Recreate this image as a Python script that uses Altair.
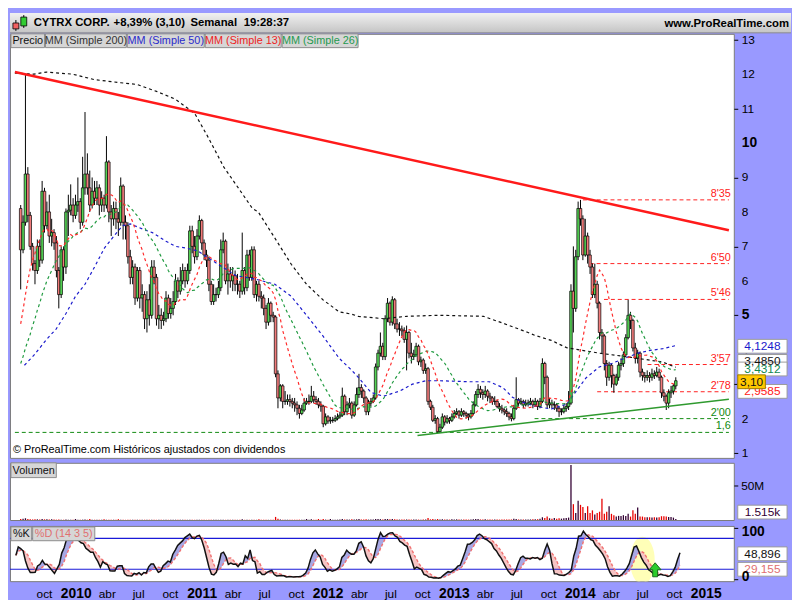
import altair as alt
import pandas as pd

# ---------------- data ----------------
last_week = "2014-10-17"
first_open = 8.1
closes = [
    6.9, 7.7, 9.1, 7.9, 7.0, 6.5, 6.3, 7.0, 6.6, 8.6,
    7.6, 8.0, 7.3, 7.4, 7.1, 6.3, 5.6, 6.9, 6.4, 8.0,
    8.05, 8.2, 7.9, 8.2, 8.3, 7.7, 8.7, 9.1, 8.7, 8.2,
    8.6, 8.4, 8.7, 8.2, 8.4, 8.2, 9.45, 8.0, 7.8, 8.1,
    7.8, 7.7, 8.75, 7.7, 7.6, 6.7, 6.1, 6.4, 5.5, 6.3,
    5.5, 5.6, 4.9, 5.45, 5.0, 6.4, 6.1, 4.9, 5.0, 4.85,
    4.9, 5.5, 5.05, 5.2, 5.4, 6.0, 5.7, 6.0, 6.3, 6.0,
    6.3, 7.45, 7.0, 6.7, 7.3, 7.75, 7.1, 6.75, 6.6, 5.9,
    5.4, 5.6, 5.6, 5.8, 6.9, 7.15, 6.0, 6.2, 6.0, 6.15,
    5.9, 5.9, 5.7, 6.3, 5.8, 6.75, 6.1, 6.9, 5.6, 5.9,
    5.55, 5.5, 5.2, 4.8, 5.35, 5.0, 4.95, 3.3, 2.6, 2.95,
    2.5, 2.5, 2.55, 2.5, 2.45, 2.4, 2.3, 2.15, 2.25, 2.45,
    2.5, 2.5, 2.65, 2.55, 2.5, 2.4, 2.36, 1.85, 2.05, 1.93,
    1.95, 1.95, 2.0, 2.05, 2.1, 2.65, 2.2, 2.4, 2.45, 2.1,
    2.4, 2.7, 2.9, 2.8, 2.6, 2.2, 2.45, 2.5, 2.6, 3.5,
    3.9, 4.1, 3.8, 4.9, 5.35, 4.8, 5.45, 4.75, 4.6, 4.6,
    4.55, 4.3, 4.5, 3.9, 3.8, 3.85, 4.1, 3.65, 3.7, 3.4,
    3.45, 2.5, 2.33, 1.95, 2.0, 1.62, 1.75, 2.05, 1.9, 2.0,
    1.95, 2.05, 2.15, 2.2, 2.1, 2.2, 2.15, 2.1, 2.05, 2.15,
    2.4, 2.7, 2.85, 2.75, 2.7, 2.8, 2.65, 2.6, 2.5, 2.5,
    2.35, 2.3, 2.25, 2.2, 2.15, 2.05, 2.0, 2.3, 2.55, 2.45,
    2.5, 2.4, 2.45, 2.45, 2.5, 2.4, 2.5, 2.35, 2.5, 3.6,
    3.2, 2.4, 2.45, 2.4, 2.4, 2.3, 2.2, 2.2, 2.3, 2.35,
    2.45, 5.7, 5.2, 6.7, 8.1, 7.8, 6.75, 7.3, 6.75, 6.4,
    5.6, 5.9, 5.35, 4.5, 4.4, 3.6, 3.2, 3.55, 3.25, 3.0,
    3.2, 3.55, 3.6, 3.85, 4.35, 5.0, 4.85, 4.05, 3.75, 3.9,
    3.35, 3.25, 3.2, 3.25, 3.2, 3.3, 3.25, 3.35, 3.2, 2.75,
    2.65, 2.45, 2.75, 2.8, 2.95, 3.1,
]
highs = [
    8.2, 7.9, 12.0, 9.3, 8.0, 7.1, 6.6, 7.2, 7.2, 8.9,
    8.7, 8.3, 8.5, 7.8, 7.5, 7.3, 6.4, 7.0, 7.0, 8.1,
    8.5, 8.8, 8.4, 8.5, 9.0, 8.4, 9.6, 10.9, 9.7, 9.2,
    9.0, 8.9, 8.9, 8.8, 8.6, 8.5, 10.2, 9.5, 8.2, 8.3,
    8.3, 8.0, 9.0, 8.8, 7.9, 7.7, 6.9, 6.6, 6.5, 6.4,
    6.4, 5.9, 5.7, 5.7, 5.9, 6.6, 6.6, 6.2, 5.3, 5.2,
    5.1, 5.7, 5.6, 5.5, 5.7, 6.2, 6.1, 6.4, 6.5, 6.4,
    6.5, 7.6, 7.6, 7.3, 7.5, 7.9, 7.8, 7.2, 6.9, 6.7,
    6.0, 5.9, 5.8, 6.0, 7.2, 7.4, 7.2, 6.5, 6.4, 6.4,
    6.3, 6.2, 6.0, 7.4, 6.4, 6.9, 6.9, 7.0, 7.0, 6.0,
    6.0, 5.7, 5.6, 5.3, 5.5, 5.4, 5.1, 5.0, 3.4, 3.0,
    3.0, 2.8, 2.7, 2.7, 2.6, 2.6, 2.5, 2.4, 2.4, 2.6,
    2.6, 2.7, 2.95, 2.8, 2.65, 2.6, 2.5, 2.4, 2.15, 2.1,
    2.05, 2.05, 2.1, 2.15, 2.2, 2.9, 2.7, 2.5, 2.6, 2.5,
    2.5, 2.9, 3.3, 3.0, 2.85, 2.65, 2.55, 2.6, 2.7, 3.6,
    4.0, 4.5, 4.2, 5.0, 5.5, 5.4, 5.55, 5.5, 4.9, 4.8,
    4.7, 4.65, 4.7, 4.55, 4.2, 4.0, 4.2, 4.15, 3.8, 3.75,
    3.6, 3.5, 2.55, 2.4, 2.1, 2.05, 1.85, 2.15, 2.1, 2.1,
    2.05, 2.15, 2.25, 2.3, 2.25, 2.3, 2.25, 2.2, 2.15, 2.25,
    2.5, 2.8, 3.0, 2.95, 2.85, 2.95, 2.85, 2.75, 2.65, 2.65,
    2.55, 2.45, 2.4, 2.3, 2.3, 2.2, 2.15, 2.4, 3.2, 2.6,
    2.6, 2.55, 2.55, 2.55, 2.6, 2.55, 2.6, 2.55, 2.6, 3.75,
    3.65, 3.25, 2.6, 2.55, 2.5, 2.45, 2.35, 2.3, 2.4, 2.45,
    2.8, 5.9, 7.0, 6.9, 8.3, 8.35, 7.9, 7.8, 7.4, 6.9,
    6.5, 6.5, 6.0, 5.4, 4.6, 4.45, 3.7, 3.65, 3.6, 3.3,
    3.3, 3.65, 3.75, 3.95, 4.45, 5.45, 5.1, 4.9, 4.2, 4.0,
    3.95, 3.45, 3.35, 3.4, 3.35, 3.45, 3.4, 3.5, 3.45, 3.25,
    2.85, 2.7, 2.85, 2.95, 3.0, 3.2,
]
lows = [
    5.75, 6.8, 7.6, 7.7, 6.9, 6.3, 5.9, 6.2, 6.4, 6.5,
    7.4, 7.5, 7.1, 7.0, 6.9, 6.1, 5.2, 5.5, 6.0, 6.2,
    7.3, 7.9, 7.7, 7.8, 8.0, 7.5, 7.6, 8.5, 8.5, 8.0,
    8.1, 8.2, 8.2, 7.9, 8.0, 8.0, 8.1, 7.7, 7.3, 7.6,
    7.5, 7.3, 7.6, 7.2, 7.2, 6.5, 5.9, 5.9, 5.3, 5.4,
    5.2, 5.1, 4.6, 4.5, 4.7, 4.9, 5.9, 4.7, 4.6, 4.6,
    4.7, 4.8, 4.9, 4.9, 5.0, 5.3, 5.5, 5.6, 5.9, 5.8,
    5.9, 6.2, 6.8, 6.5, 6.6, 7.2, 6.9, 6.6, 6.4, 5.7,
    5.3, 5.3, 5.4, 5.5, 5.7, 6.8, 5.9, 5.6, 5.8, 5.7,
    5.7, 5.6, 5.5, 5.6, 5.6, 5.7, 6.0, 6.0, 5.5, 5.4,
    5.4, 5.2, 5.0, 4.6, 4.7, 4.8, 4.8, 3.2, 2.3, 2.5,
    2.3, 2.4, 2.4, 2.35, 2.3, 2.2, 2.1, 2.0, 2.1, 2.2,
    2.4, 2.4, 2.45, 2.45, 2.4, 2.3, 2.2, 1.75, 1.8, 1.85,
    1.85, 1.88, 1.9, 1.95, 2.0, 2.05, 2.1, 2.1, 2.3, 2.0,
    2.05, 2.35, 2.6, 2.6, 2.45, 2.1, 2.1, 2.35, 2.45, 2.55,
    3.4, 3.8, 3.7, 3.7, 4.8, 4.7, 4.7, 4.6, 4.5, 4.4,
    4.4, 4.2, 3.4, 3.75, 3.6, 3.7, 3.8, 3.55, 3.5, 3.3,
    3.3, 2.4, 2.25, 1.9, 1.85, 1.58, 1.6, 1.7, 1.8, 1.85,
    1.85, 1.9, 2.0, 2.1, 2.0, 2.05, 2.05, 2.0, 1.95, 2.0,
    2.1, 2.35, 2.6, 2.6, 2.55, 2.6, 2.5, 2.45, 2.4, 2.4,
    2.3, 2.2, 2.15, 2.1, 2.05, 1.95, 1.92, 1.95, 2.25, 2.35,
    2.4, 2.3, 2.35, 2.35, 2.4, 2.3, 2.35, 2.25, 2.3, 2.45,
    3.0, 2.3, 2.3, 2.3, 2.25, 2.2, 2.05, 2.1, 2.15, 2.2,
    2.25, 2.4, 4.5, 5.1, 6.6, 7.6, 6.6, 6.7, 6.5, 6.2,
    5.5, 5.5, 5.2, 4.3, 3.9, 3.4, 2.95, 3.1, 2.9, 2.75,
    2.95, 3.1, 3.4, 3.5, 3.8, 4.3, 4.6, 3.95, 3.6, 3.6,
    3.2, 3.1, 3.05, 3.1, 3.05, 3.1, 3.15, 3.2, 3.1, 2.6,
    2.5, 2.25, 2.3, 2.6, 2.7, 2.85,
]
volumes_m = [
    1.5, 2.0, 2.5, 1.5, 1.0, 0.8, 1.2, 1.0, 0.8, 1.5,
    1.0, 1.2, 0.8, 1.0, 0.8, 0.5, 0.6, 0.5, 0.4, 0.6,
    0.5, 0.4, 0.5, 1.5, 0.5, 0.4, 0.5, 0.6, 0.4, 1.5,
    0.5, 0.4, 0.5, 0.4, 0.5, 1.2, 0.4, 0.5, 0.4, 0.4,
    0.4, 1.2, 0.4, 0.4, 0.3, 0.4, 0.3, 0.4, 0.3, 0.4,
    0.3, 0.3, 0.4, 0.3, 0.3, 0.4, 0.3, 0.3, 0.3, 0.3,
    0.3, 0.4, 0.3, 0.3, 0.3, 0.4, 0.3, 0.3, 0.3, 0.3,
    0.3, 0.4, 0.3, 0.3, 0.3, 0.3, 0.3, 0.3, 0.3, 0.3,
    0.3, 0.3, 0.3, 0.3, 0.4, 0.3, 0.3, 0.3, 0.3, 0.3,
    0.3, 0.3, 0.3, 1.0, 0.3, 0.3, 0.3, 0.3, 0.4, 0.3,
    1.0, 0.3, 0.3, 0.4, 0.3, 0.3, 0.5, 4.5, 2.0, 0.6,
    0.5, 0.4, 0.4, 0.4, 0.4, 0.4, 0.5, 0.5, 0.4, 0.5,
    1.5, 0.5, 1.0, 0.5, 0.4, 1.5, 0.5, 1.5, 0.6, 0.5,
    1.5, 0.5, 0.5, 0.5, 0.6, 1.5, 0.8, 0.6, 0.6, 1.2,
    0.6, 1.0, 1.5, 0.8, 0.6, 1.2, 0.6, 0.6, 0.6, 1.5,
    1.5, 1.2, 0.8, 1.5, 1.5, 1.0, 1.5, 1.0, 0.6, 0.6,
    0.6, 0.6, 0.8, 0.8, 0.6, 0.6, 0.6, 0.6, 0.5, 0.6,
    0.6, 3.0, 1.0, 1.5, 0.8, 1.5, 0.8, 1.2, 0.8, 0.6,
    0.6, 1.2, 0.6, 1.0, 0.6, 0.6, 0.6, 0.6, 0.6, 0.6,
    1.2, 1.5, 1.5, 0.8, 0.6, 1.2, 0.6, 0.6, 0.6, 0.6,
    0.6, 0.6, 0.6, 0.6, 0.6, 0.6, 0.8, 2.0, 1.5, 0.8,
    0.8, 0.8, 0.8, 0.8, 0.8, 1.0, 1.0, 1.2, 2.0, 4.0,
    3.0, 5.0, 2.5, 2.0, 3.0, 2.0, 2.5, 2.0, 2.5, 3.0,
    3.5, 80.0, 23.0, 10.0, 28.0, 22.0, 19.0, 10.0, 20.0, 10.0,
    14.0, 8.0, 10.0, 12.0, 31.0, 9.0, 12.0, 20.0, 9.0, 7.0,
    5.0, 6.0, 6.0, 7.0, 6.0, 9.0, 5.0, 14.0, 9.0, 18.0,
    5.0, 5.0, 4.0, 4.0, 4.0, 3.5, 4.0, 3.5, 4.0, 5.5,
    5.5, 5.0, 4.5, 4.5, 3.5, 1.5,
]
# moving averages at the start of the window (history before the chart)
ma13_head = [4.75, 5.15, 5.6, 6.0, 6.35, 6.6, 6.8, 7.05, 7.2, 7.4, 7.5, 7.5]
ma26_head = [3.6, 3.8, 4.05, 4.25, 4.45, 4.7, 4.9, 5.15, 5.35, 5.6, 5.8, 6.0, 6.15,
             6.3, 6.45, 6.6, 6.7, 6.85, 6.95, 7.05, 7.15, 7.2, 7.3, 7.35, 7.4]
ma50_dates = ["2009-07-21", "2009-08-18", "2009-09-24", "2009-10-22", "2009-11-20", "2009-12-18",
              "2010-01-15", "2010-02-12", "2010-03-13", "2010-04-10", "2010-05-05", "2010-05-28",
              "2010-07-04", "2010-08-01", "2010-09-10", "2010-10-08", "2010-11-08", "2010-12-12",
              "2011-02-07", "2011-04-04", "2011-05-31", "2011-07-27", "2011-09-13", "2011-10-28",
              "2011-12-15", "2012-02-01", "2012-03-09", "2012-03-28", "2012-05-04", "2012-06-10",
              "2012-07-28", "2012-09-03", "2012-10-13", "2012-11-19", "2013-02-20", "2013-04-17",
              "2013-05-27", "2013-06-24", "2013-07-23", "2013-08-28", "2013-10-16", "2013-11-30",
              "2013-12-28", "2014-01-26", "2014-03-06", "2014-04-12", "2014-05-19", "2014-06-28",
              "2014-08-03", "2014-09-09", "2014-10-17"]
ma50_values = [3.55, 3.84, 4.3, 4.6, 5.05, 5.55, 5.9, 6.4, 6.95, 7.3, 7.6, 7.65,
               7.5, 7.4, 7.15, 7.0, 6.95, 6.87, 6.5, 6.15, 6.05, 5.9, 5.55, 5.0,
               4.4, 3.75, 3.4, 3.2, 2.76, 2.65, 2.8, 3.0, 3.1, 3.1, 3.07, 3.07,
               2.9, 2.62, 2.48, 2.36, 2.28, 2.42, 2.79, 3.18, 3.5, 3.6, 3.75, 3.9,
               3.98, 4.03, 4.12]
ma200_dates = ["2009-06-23", "2009-08-18", "2009-09-24", "2009-12-09", "2010-02-12", "2010-04-30",
               "2010-06-17", "2010-08-13", "2010-10-08", "2010-11-14", "2010-12-04", "2011-01-10",
               "2011-02-27", "2011-04-13", "2011-05-22", "2011-06-08", "2011-07-27", "2011-09-13",
               "2011-10-28", "2011-12-15", "2012-02-01", "2012-03-09", "2012-03-28", "2012-06-10",
               "2012-08-17", "2012-11-19", "2013-03-31", "2013-05-27", "2013-08-09", "2013-08-28",
               "2013-10-16", "2013-11-30", "2014-03-06", "2014-06-07", "2014-09-09", "2014-10-17"]
ma200_values = [12.03, 12.0, 12.06, 12.0, 11.84, 11.75, 11.7, 11.5, 11.27, 11.0, 10.85, 10.2,
                9.3, 8.66, 8.1, 8.0, 7.24, 6.48, 5.9, 5.45, 5.1, 5.03, 4.97, 4.9,
                4.97, 5.0, 4.97, 4.77, 4.5, 4.42, 4.27, 4.06, 3.9, 3.78, 3.64, 3.49]

trend_dates = ["2009-06-23", "2015-03-22"]
trend_prices = [12.06, 7.47]
support_dates = ["2012-09-18", "2015-03-22"]
support_prices = [1.51, 2.56]

level_values = [8.35, 6.50, 5.46, 3.57, 2.78, 2.00, 1.60]
level_labels = ["8'35", "6'50", "5'46", "3'57", "2'78", "2'00", "1,6"]
level_starts = ["2014-01-17", "2014-02-06", "2014-03-20", "2014-07-26", "2014-02-28", "2013-08-28", "2009-06-23"]
level_kinds = ["resistance"] * 5 + ["support"] * 2
level_end = "2015-03-22"

price_ticks = list(range(1, 14))
price_major_ticks = [5, 10]
price_box_labels = ["4,1248", "3,4850", "3,4312", "2,9585", "3,10"]
price_box_levels = [4.10, 3.66, 3.44, 2.79, 3.07]
price_box_kinds = ["ma50", "ma200", "ma26", "ma13", "last"]

stoch_ticks = [0, 100]
stoch_box_labels = ["48,896", "29,155"]
stoch_box_levels = [50, 20]
stoch_box_kinds = ["k", "d"]
stoch_bands = [20, 80]
highlight_date = ["2014-06-30"]
highlight_level = [37]
arrow_date = ["2014-08-06"]
arrow_level = [19]

vol_box_label = ["1.515k"]
vol_box_level = [11.5]

month_names = {1: None, 4: "abr", 7: "jul", 10: "oct"}
quarters = [(2009, 10)] + [(y, m) for y in range(2010, 2015) for m in (1, 4, 7, 10)] + [(2015, 1)]

# ---------------- derived tables ----------------
dates = pd.date_range(end=last_week, periods=len(closes), freq="7D")
df = pd.DataFrame({"date": dates.strftime("%Y-%m-%d"), "close": closes,
                   "high": highs, "low": lows, "vol": volumes_m})
df["open"] = [first_open] + closes[:-1]
df["dir"] = ["up" if c >= o else "down" for o, c in zip(df["open"], df["close"])]
ma13 = df["close"].rolling(13).mean()
ma13.iloc[:len(ma13_head)] = ma13_head
ma26 = df["close"].rolling(26).mean()
ma26.iloc[:len(ma26_head)] = ma26_head
df["ma13"] = ma13.round(4)
df["ma26"] = ma26.round(4)
hh = df["high"].rolling(14, min_periods=1).max()
ll = df["low"].rolling(14, min_periods=1).min()
raw = 100 * (df["close"] - ll) / (hh - ll)
k = raw.rolling(3, min_periods=1).mean()
d = k.rolling(5, min_periods=1).mean()
df["k"] = k.round(3)
df["d"] = d.round(3)
df["kd_max"] = pd.concat([k, d], axis=1).max(axis=1).round(3)
df["kd_min"] = pd.concat([k, d], axis=1).min(axis=1).round(3)

ma50_df = pd.DataFrame({"date": ma50_dates, "v": ma50_values})
ma200_df = pd.DataFrame({"date": ma200_dates, "v": ma200_values})
trend_df = pd.DataFrame({"date": trend_dates, "v": trend_prices})
support_df = pd.DataFrame({"date": support_dates, "v": support_prices})
levels_df = pd.DataFrame({"start": level_starts, "end": [level_end] * len(level_values),
                          "v": level_values, "label": level_labels, "kind": level_kinds})
pbox_df = pd.DataFrame({"label": price_box_labels, "v": price_box_levels, "kind": price_box_kinds})
sbox_df = pd.DataFrame({"label": stoch_box_labels, "v": stoch_box_levels, "kind": stoch_box_kinds})
bands_df = pd.DataFrame({"v": stoch_bands})
hl_df = pd.DataFrame({"date": highlight_date, "v": highlight_level})
arrow_df = pd.DataFrame({"date": arrow_date, "v": arrow_level})
vbox_df = pd.DataFrame({"label": vol_box_label, "v": vol_box_level})
ptick_minor = pd.DataFrame({"v": [t for t in price_ticks if t not in price_major_ticks]})
ptick_major = pd.DataFrame({"v": price_major_ticks})
stick_top = pd.DataFrame({"v": [max(stoch_ticks)], "label": [str(max(stoch_ticks))]})
stick_bot = pd.DataFrame({"v": [min(stoch_ticks)], "label": [str(min(stoch_ticks))]})
qdf = pd.DataFrame({"date": [f"{y}-{m:02d}-01" for (y, m) in quarters],
                    "label": [str(y) if m == 1 else month_names[m] for (y, m) in quarters],
                    "major": [m == 1 for (y, m) in quarters]})
q_minor = qdf[~qdf["major"]]
q_major = qdf[qdf["major"]]

# ---------------- layout constants ----------------
W = 734
H_HEAD = 20
H_MAIN = 430
H_VOL = 58
H_STO = 56
FULL_W = 792
FONT = "Liberation Sans"
AX_BG = "#9999ff"

xscale = alt.Scale(domain=[alt.DateTime(year=2009, month=6, date=23),
                           alt.DateTime(year=2015, month=3, date=22)])
X = alt.X("date:T", scale=xscale, axis=None, title=None)
dummy = alt.Data(values=[{"a": 1}])

BOX_PATH = "M-1,-0.28 L1,-0.28 L1,0.28 L-1,0.28 Z"
SMALL_BOX_PATH = "M-1,-0.5 L1,-0.5 L1,0.5 L-1,0.5 Z"


def label_box(x0, x1, y0, y1, text, color):
    box = alt.Chart(dummy).mark_rect(fill="#d6d6d6", stroke="#8c8c8c", strokeWidth=1).encode(
        x=alt.value(x0), x2=alt.value(x1), y=alt.value(y0), y2=alt.value(y1))
    txt = alt.Chart(dummy).mark_text(text=text, color=color, font=FONT, fontSize=11,
                                     align="center", baseline="middle").encode(
        x=alt.value((x0 + x1) / 2), y=alt.value((y0 + y1) / 2 + 0.5))
    return [box, txt]


def tick_axis(orient, values):
    return alt.Axis(orient=orient, values=values, labels=False, title=None, grid=False, domain=False,
                    tickSize=4, tickColor="black")


# ---------------- header (drawn above the price panel) ----------------
top = -H_HEAD - 1
hdr_layers = [
    alt.Chart(dummy).mark_rect(color=alt.LinearGradient(
        gradient="linear", x1=0, x2=0, y1=0, y2=1,
        stops=[alt.GradientStop(color="#f0f0f0", offset=0),
               alt.GradientStop(color="#c4c4c4", offset=1)])).encode(
        x=alt.value(0), x2=alt.value(FULL_W), y=alt.value(top), y2=alt.value(-1)),
    alt.Chart(dummy).mark_rule(color="#8a8a8a").encode(
        x=alt.value(0), x2=alt.value(FULL_W), y=alt.value(-1)),
    alt.Chart(dummy).mark_rule(color="black").encode(x=alt.value(6), y=alt.value(top + 7), y2=alt.value(top + 18)),
    alt.Chart(dummy).mark_rect(fill="#f06060", stroke="black", strokeWidth=0.8).encode(
        x=alt.value(3), x2=alt.value(9), y=alt.value(top + 10), y2=alt.value(top + 16)),
    alt.Chart(dummy).mark_rule(color="black").encode(x=alt.value(14), y=alt.value(top + 2), y2=alt.value(top + 15)),
    alt.Chart(dummy).mark_rect(fill="#33cc33", stroke="black", strokeWidth=0.8).encode(
        x=alt.value(11), x2=alt.value(17), y=alt.value(top + 4), y2=alt.value(top + 13)),
]
for txt, xpos in [("CYTRX CORP.", 24), ("+8,39% (3,10)", 105), ("Semanal", 183), ("19:28:37", 237)]:
    hdr_layers.append(alt.Chart(dummy).mark_text(
        text=txt, font=FONT, fontSize=11.5, fontWeight="bold", color="black",
        align="left", baseline="middle").encode(x=alt.value(xpos), y=alt.value(top + 10)))
hdr_layers.append(alt.Chart(dummy).mark_text(
    text="www.ProRealTime.com", font=FONT, fontSize=11.5, fontWeight="bold", color="black",
    align="right", baseline="middle").encode(x=alt.value(FULL_W - 2), y=alt.value(top + 11)))

# ---------------- main price panel ----------------
YS = alt.Scale(domain=[0.86, 13.17], nice=False, zero=False)

level_color = alt.Color("kind:N", scale=alt.Scale(domain=["resistance", "support"],
                                                  range=["#ff2020", "#108a10"]), legend=None)
level_rules = alt.Chart(levels_df).mark_rule(strokeDash=[4, 3], strokeWidth=1).encode(
    x=alt.X("start:T", scale=xscale, axis=None, title=None), x2="end:T",
    y=alt.Y("v:Q", scale=YS, axis=tick_axis("right", price_ticks)), color=level_color)
level_text = alt.Chart(levels_df).mark_text(font=FONT, fontSize=11, align="right",
                                            baseline="bottom", dy=-1).encode(
    x=alt.value(W - 3), y=alt.Y("v:Q", scale=YS, title=None), text="label:N", color=level_color)

price_lbl_minor = alt.Chart(ptick_minor).mark_text(font=FONT, fontSize=12, align="left",
                                                   baseline="middle", color="black").encode(
    x=alt.value(W + 8), y=alt.Y("v:Q", scale=YS, title=None), text="v:Q")
price_lbl_major = alt.Chart(ptick_major).mark_text(font=FONT, fontSize=14, fontWeight="bold",
                                                   align="left", baseline="middle", color="black").encode(
    x=alt.value(W + 8), y=alt.Y("v:Q", scale=YS, title=None), text="v:Q")

wicks = alt.Chart(df).mark_rule(color="black", strokeWidth=1).encode(
    x=X, y=alt.Y("low:Q", scale=YS, title=None), y2="high:Q")
bodies = alt.Chart(df).mark_bar(size=2.6, stroke="black", strokeWidth=0.7).encode(
    x=X, y=alt.Y("open:Q", scale=YS, title=None), y2="close:Q",
    color=alt.Color("dir:N", scale=alt.Scale(domain=["up", "down"], range=["#55d455", "#f27b7b"]),
                    legend=None))


def ma_line(data, field, color):
    return alt.Chart(data).mark_line(color=color, strokeWidth=1.2, strokeDash=[3, 3], clip=True).encode(
        x=X, y=alt.Y(f"{field}:Q", scale=YS, title=None))


ma200_line = ma_line(ma200_df, "v", "#111111")
ma50_line = ma_line(ma50_df, "v", "#1a1acc")
ma26_line = ma_line(df, "ma26", "#1f9a3f")
ma13_line = ma_line(df, "ma13", "#ff2a2a")

trend_line = alt.Chart(trend_df).mark_line(color="#ff1a1a", strokeWidth=2.6, clip=True).encode(
    x=X, y=alt.Y("v:Q", scale=YS, title=None))
support_line = alt.Chart(support_df).mark_line(color="#2f9a2f", strokeWidth=1.6, clip=True).encode(
    x=X, y=alt.Y("v:Q", scale=YS, title=None))

copyright_txt = alt.Chart(dummy).mark_text(
    text="© ProRealTime.com  Históricos ajustados con dividendos", font=FONT, fontSize=11,
    color="black", align="left", baseline="middle").encode(x=alt.value(3), y=alt.value(H_MAIN - 8))

pbox_fill = alt.Color("kind:N", scale=alt.Scale(domain=["ma50", "ma200", "ma26", "ma13", "last"],
                                                range=["white", "white", "white", "white", "#ffc800"]),
                      legend=None)
pbox_text = alt.Color("kind:N", scale=alt.Scale(domain=["ma50", "ma200", "ma26", "ma13", "last"],
                                                range=["#1a1acc", "#111111", "#108a50", "#ff2020", "#111111"]),
                      legend=None)
wide_boxes = pbox_df[pbox_df["kind"] != "last"]
last_box = pbox_df[pbox_df["kind"] == "last"]
pbox_marks = alt.Chart(wide_boxes).mark_point(shape=BOX_PATH, size=2500, filled=True, opacity=1,
                                              stroke="#9a9a9a", strokeWidth=1).encode(
    x=alt.value(W + 29), y=alt.Y("v:Q", scale=YS, title=None), fill=pbox_fill)
pbox_labels = alt.Chart(wide_boxes).mark_text(font=FONT, fontSize=12, align="center",
                                              baseline="middle").encode(
    x=alt.value(W + 29), y=alt.Y("v:Q", scale=YS, title=None), text="label:N", color=pbox_text)
last_mark = alt.Chart(last_box).mark_point(shape=SMALL_BOX_PATH, size=784, filled=True, opacity=1,
                                           stroke="#9a7a00", strokeWidth=1).encode(
    x=alt.value(W + 18), y=alt.Y("v:Q", scale=YS, title=None), fill=pbox_fill)
last_label = alt.Chart(last_box).mark_text(font=FONT, fontSize=12, align="center",
                                           baseline="middle").encode(
    x=alt.value(W + 18), y=alt.Y("v:Q", scale=YS, title=None), text="label:N", color=pbox_text)

legend_layers = []
for (x0, x1, text, color) in [(1, 35, "Precio", "#111111"), (36, 118, "MM (Simple 200)", "#333333"),
                              (119, 197, "MM (Simple 50)", "#2a2acc"), (198, 275, "MM (Simple 13)", "#ee2222"),
                              (276, 353, "MM (Simple 26)", "#1f9a4f")]:
    legend_layers += label_box(x0, x1, 0, 14, text, color)

main = alt.layer(*hdr_layers, level_rules, wicks, bodies, ma200_line, ma50_line, ma26_line, ma13_line,
                 trend_line, support_line, level_text, copyright_txt, *legend_layers,
                 price_lbl_minor, price_lbl_major,
                 pbox_marks, pbox_labels, last_mark, last_label).resolve_scale(
    color="independent").properties(width=W, height=H_MAIN)

# ---------------- volume panel ----------------
VS = alt.Scale(domain=[0, 83], nice=False, zero=True)
vol_bars = alt.Chart(df).mark_bar(size=1.3).encode(
    x=X,
    y=alt.Y("vol:Q", scale=VS, title=None,
            axis=alt.Axis(orient="right", values=[50], labelExpr="'50M'", title=None, grid=False,
                          domain=False, tickSize=4, tickColor="black", labelColor="black",
                          labelFontSize=12, labelFont=FONT, labelPadding=3)),
    color=alt.Color("dir:N", scale=alt.Scale(domain=["up", "down"], range=["#330033", "#e80000"]),
                    legend=None))
vbox = alt.Chart(vbox_df).mark_point(shape=BOX_PATH, size=2500, filled=True, opacity=1, fill="white",
                                     stroke="#9a9a9a", strokeWidth=1).encode(
    x=alt.value(W + 29), y=alt.Y("v:Q", scale=VS, title=None))
vbox_txt = alt.Chart(vbox_df).mark_text(font=FONT, fontSize=12, color="#330033", align="center",
                                        baseline="middle").encode(
    x=alt.value(W + 29), y=alt.Y("v:Q", scale=VS, title=None), text="label:N")
volume = alt.layer(vol_bars, *label_box(1, 47, 0, 15, "Volumen", "#111111"), vbox, vbox_txt).resolve_scale(
    color="independent").properties(width=W, height=H_VOL)

# ---------------- stochastic panel ----------------
SS = alt.Scale(domain=[-3, 104], nice=False, zero=False)
XS = alt.X("date:T", scale=xscale, title=None,
           axis=alt.Axis(values=[alt.DateTime(year=y, month=m, date=1) for (y, m) in quarters],
                         labels=False, title=None, grid=False, domain=False, tickSize=4,
                         tickColor="#606060"))

highlight = alt.Chart(hl_df).mark_point(
    shape="M0,-1 A0.5,1 0 1,1 0,1 A0.5,1 0 1,1 0,-1 Z", size=2116, filled=True, opacity=1,
    fill="#ffffb8", stroke="#ffffb8", clip=True).encode(
    x=X, y=alt.Y("v:Q", scale=SS, title=None))
fill_up = alt.Chart(df).mark_area(color="#a8a8e4", opacity=1).encode(
    x=XS, y=alt.Y("kd_max:Q", scale=SS, axis=tick_axis("right", stoch_ticks)), y2="d:Q")
fill_dn = alt.Chart(df).mark_area(color="#f6c4c4", opacity=1).encode(
    x=X, y=alt.Y("d:Q", scale=SS, title=None), y2="kd_min:Q")
bands = alt.Chart(bands_df).mark_rule(color="#1a1ad8", strokeWidth=1.2).encode(
    y=alt.Y("v:Q", scale=SS, title=None))
d_line = alt.Chart(df).mark_line(color="#f07070", strokeWidth=1.4, strokeDash=[3, 2]).encode(
    x=X, y=alt.Y("d:Q", scale=SS, title=None))
k_line = alt.Chart(df).mark_line(color="#111111", strokeWidth=1.5).encode(
    x=X, y=alt.Y("k:Q", scale=SS, title=None))
arrow = alt.Chart(arrow_df).mark_point(
    shape="M0,-1 L0.85,0 L0.35,0 L0.35,1 L-0.35,1 L-0.35,0 L-0.85,0 Z", size=200, filled=True,
    opacity=1, fill="#2ccc2c", stroke="#1a6a1a", strokeWidth=1).encode(
    x=X, y=alt.Y("v:Q", scale=SS, title=None))
sbox_color = alt.Color("kind:N", scale=alt.Scale(domain=["k", "d"], range=["#111111", "#e07070"]),
                       legend=None)
sbox = alt.Chart(sbox_df).mark_point(shape=BOX_PATH, size=2500, filled=True, opacity=1, fill="white",
                                     stroke="#9a9a9a", strokeWidth=1).encode(
    x=alt.value(W + 29), y=alt.Y("v:Q", scale=SS, title=None))
sbox_txt = alt.Chart(sbox_df).mark_text(font=FONT, fontSize=12, align="center", baseline="middle").encode(
    x=alt.value(W + 29), y=alt.Y("v:Q", scale=SS, title=None), text="label:N", color=sbox_color)
stoch_lbl_top = alt.Chart(stick_top).mark_text(font=FONT, fontSize=14, fontWeight="bold", align="left",
                                               baseline="middle", color="black", dy=4).encode(
    x=alt.value(W + 8), y=alt.Y("v:Q", scale=SS, title=None), text="label:N")
stoch_lbl_bot = alt.Chart(stick_bot).mark_text(font=FONT, fontSize=14, fontWeight="bold", align="left",
                                               baseline="middle", color="black", dy=-3).encode(
    x=alt.value(W + 8), y=alt.Y("v:Q", scale=SS, title=None), text="label:N")
x_lbl_minor = alt.Chart(q_minor).mark_text(font=FONT, fontSize=12, align="center", baseline="middle",
                                           color="black").encode(
    x=X, y=alt.value(H_STO + 13), text="label:N")
x_lbl_major = alt.Chart(q_major).mark_text(font=FONT, fontSize=14, fontWeight="bold", align="center",
                                           baseline="middle", color="black").encode(
    x=X, y=alt.value(H_STO + 13), text="label:N")
stoch = alt.layer(highlight, fill_up, fill_dn, bands, d_line, k_line, arrow,
                  *label_box(1, 22, 1, 15, "%K", "#111111"),
                  *label_box(23, 86, 1, 15, "%D (14 3 5)", "#e07070"),
                  sbox, sbox_txt, stoch_lbl_top, stoch_lbl_bot, x_lbl_minor, x_lbl_major).resolve_scale(
    color="independent").properties(width=W, height=H_STO)

chart = alt.vconcat(main, volume, stoch, spacing=2).properties(padding=0).configure(
    background=AX_BG, font=FONT).configure_view(fill="white", stroke="#7a7a7a")

chart.save("out.html", embed_options={"renderer": "svg", "actions": False})
